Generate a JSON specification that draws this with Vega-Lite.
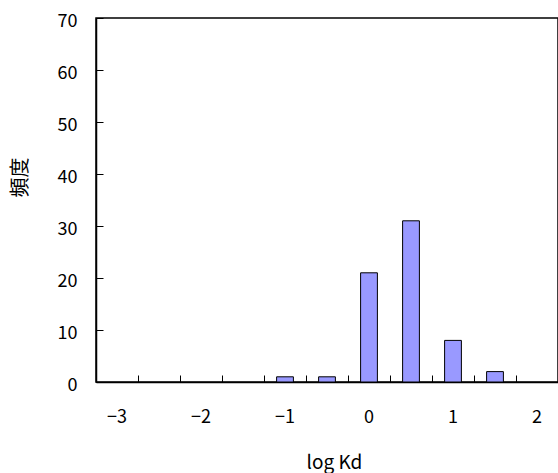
{
  "$schema": "https://vega.github.io/schema/vega-lite/v6.json",
  "width": 462,
  "height": 364,
  "autosize": "none",
  "padding": {"left": 96, "top": 18, "right": 0, "bottom": 91},
  "background": "white",
  "view": {"stroke": "black", "strokeWidth": 1.5},
  "data": {
    "values": [
      {"logKd": -3, "count": 0},
      {"logKd": -2.5, "count": 0},
      {"logKd": -2, "count": 0},
      {"logKd": -1.5, "count": 0},
      {"logKd": -1, "count": 1},
      {"logKd": -0.5, "count": 1},
      {"logKd": 0, "count": 21},
      {"logKd": 0.5, "count": 31},
      {"logKd": 1, "count": 8},
      {"logKd": 1.5, "count": 2},
      {"logKd": 2, "count": 0}
    ]
  },
  "mark": {"type": "bar", "fill": "#9999FF", "stroke": "black", "strokeWidth": 1, "width": {"band": 0.4}},
  "encoding": {
    "opacity": {"condition": {"test": "datum.count > 0", "value": 1}, "value": 0},
    "x": {
      "field": "logKd",
      "type": "ordinal",
      "sort": "ascending",
      "scale": {"paddingInner": 0, "paddingOuter": 0},
      "axis": {
        "title": "log Kd",
        "labelAngle": 0,
        "bandPosition": 0,
        "labelExpr": "datum.value % 1 === 0 ? replace(toString(datum.value), '-', '−') : ''",
        "labelFont": "Noto Sans CJK JP",
        "labelFontSize": 18,
        "labelColor": "black",
        "labelBaseline": "middle",
        "labelPadding": 42,
        "tickSize": -7,
        "tickColor": "black",
        "tickWidth": 1,
        "domainColor": "black",
        "domainWidth": 1.5,
        "grid": false,
        "titleFont": "Noto Sans CJK JP",
        "titleFontSize": 19,
        "titleFontWeight": "normal",
        "titleColor": "black",
        "titleX": 238,
        "titleY": 80,
        "titleAlign": "center",
        "titleBaseline": "middle"
      }
    },
    "y": {
      "field": "count",
      "type": "quantitative",
      "scale": {"domain": [0, 70], "nice": false},
      "axis": {
        "title": "頻度",
        "values": [0, 10, 20, 30, 40, 50, 60, 70],
        "labelFont": "Noto Sans CJK JP",
        "labelFontSize": 18,
        "labelColor": "black",
        "labelPadding": 26,
        "labelOffset": 3,
        "labelBaseline": "middle",
        "tickSize": -7,
        "tickColor": "black",
        "tickWidth": 1,
        "domainColor": "black",
        "domainWidth": 1.5,
        "grid": false,
        "titleFont": "Noto Sans CJK JP",
        "titleFontSize": 20,
        "titleFontWeight": "normal",
        "titleColor": "black",
        "titleAngle": -90,
        "titleX": -76,
        "titleY": 159,
        "titleAlign": "center",
        "titleBaseline": "middle"
      }
    }
  }
}
